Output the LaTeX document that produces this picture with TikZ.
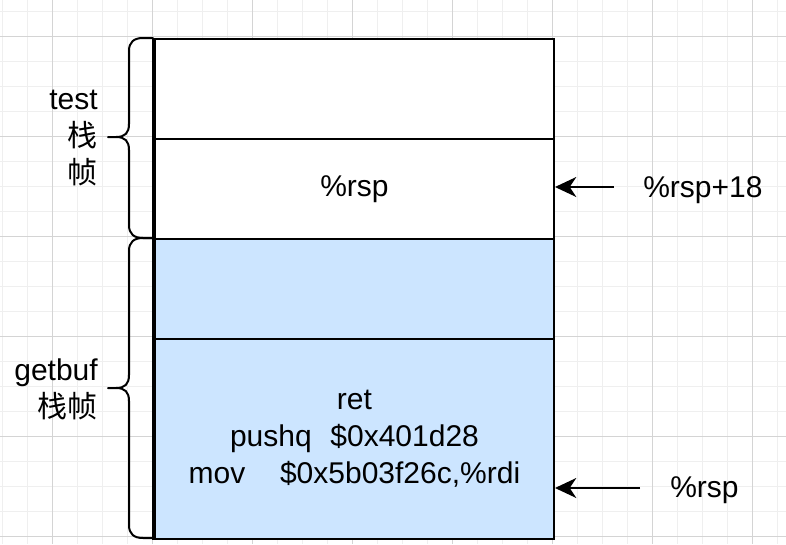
\documentclass[tikz,border=0pt]{standalone}
\usepackage{fontspec}
\setmainfont{Liberation Sans}
\newfontfamily\cjk{Noto Sans CJK SC}
\usetikzlibrary{arrows.meta}
\definecolor{gridminor}{HTML}{EFEFEF}
\definecolor{gridmajor}{HTML}{D4D4D4}
\definecolor{stackblue}{HTML}{CCE5FF}
\begin{document}
\begin{tikzpicture}[x=0.75pt,y=-0.75pt,
  cell/.style={draw=black, line width=1.5pt, minimum width=299.25pt, inner sep=0pt, anchor=north west,
    font=\fontsize{22.5}{27.75}\selectfont, align=center},
  txt/.style={font=\fontsize{22.5}{27.75}\selectfont, inner sep=0pt},
  ptr/.style={line width=1.5pt, -{Stealth[length=16pt,width=15pt,inset=5pt]}},
  brace/.style={line width=1.5pt, line join=round, line cap=round}]
\useasboundingbox (0,0) rectangle (786,544);
\fill[white] (0,0) rectangle (786,544);
% grid
\foreach \x in {2.7,27.7,...,786} \draw[gridminor,line width=0.75pt] (\x,0) -- (\x,544);
\foreach \y in {11.7,36.7,...,544} \draw[gridminor,line width=0.75pt] (0,\y) -- (786,\y);
\foreach \x in {52.7,152.7,...,786} \draw[gridmajor,line width=0.75pt] (\x,0) -- (\x,544);
\foreach \y in {36.7,136.7,...,544} \draw[gridmajor,line width=0.75pt] (0,\y) -- (786,\y);
% stack cells
\node[cell, fill=white, minimum height=75pt] (r1) at (154,38) {};
\node[cell, fill=white, minimum height=75pt] (r2) at (154,138) {\%rsp};
\node[cell, fill=stackblue, minimum height=75pt] (r3) at (154,238) {};
\node[cell, fill=stackblue, minimum height=150pt] (r4) at (154,338)
  {ret\\pushq\hspace{14pt}\$0x401d28\\mov\hspace{26pt}\$0x5b03f26c,\%rdi};
\draw[line width=2.4pt] (r1.north west) -- (r4.south west);
% braces
\draw[brace] (153,38) -- (143,38) .. controls (134,38) and (129,42) .. (129,51) -- (129,124)
  .. controls (129,133) and (125,137) .. (116,137) .. controls (125,137) and (129,141) .. (129,150)
  -- (129,225) .. controls (129,234) and (134,238) .. (143,238) -- (153,238)
  (116,137) -- (108,137);
\draw[brace] (153,238) -- (143,238) .. controls (134,238) and (129,242) .. (129,251) -- (129,375)
  .. controls (129,384) and (125,388) .. (116,388) .. controls (125,388) and (129,392) .. (129,401)
  -- (129,525) .. controls (129,534) and (134,538) .. (143,538) -- (153,538)
  (116,388) -- (108,388);
% frame labels
\node[txt, align=right, anchor=east] (ltest) at (98,138) {test\\{\cjk 栈}\\{\cjk 帧}};
\node[txt, align=right, anchor=east] (lget) at (98,389) {getbuf\\{\cjk 栈帧}};
% pointer labels and arrows
\node[txt, anchor=base west] (l18) at (643,197) {\%rsp+18};
\node[txt, anchor=base west] (lrsp) at (670,497) {\%rsp};
\coordinate (s1) at (614,187);
\coordinate (s2) at (640,488);
\draw[ptr] (s1) -- (r2.east |- s1);
\draw[ptr] (s2) -- (r4.east |- s2);
\end{tikzpicture}
\end{document}
